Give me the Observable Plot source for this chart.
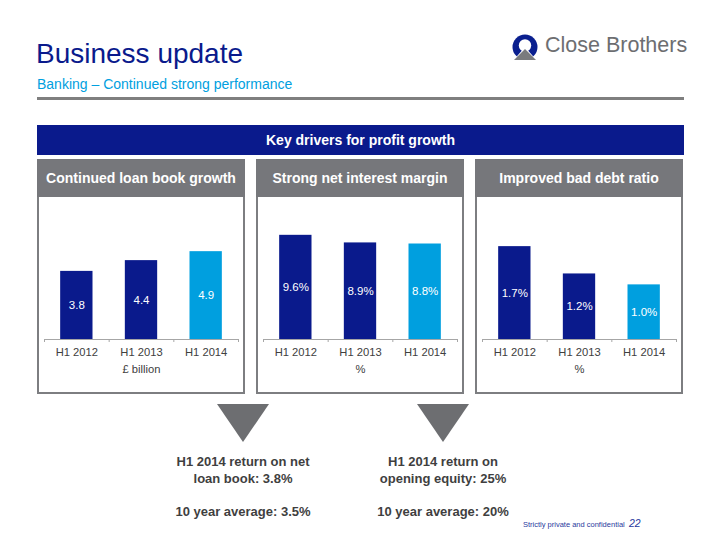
<!DOCTYPE html>
<html><head><meta charset="utf-8">
<script src="https://cdn.jsdelivr.net/npm/d3@7"></script>
<script src="https://cdn.jsdelivr.net/npm/@observablehq/plot@0.6"></script>
<style>
body{margin:0;background:#fff;font-family:"Liberation Sans",Arial,sans-serif;}
#slide{position:relative;width:720px;height:540px;overflow:hidden;background:#fff;}
.abs{position:absolute;}
.panel{position:absolute;top:159px;width:208px;height:235px;box-sizing:border-box;border:2px solid #7d7e81;border-top:none;}
.phead{height:38px;line-height:38px;background:#76777b;color:#fff;font-weight:bold;font-size:14px;text-align:center;margin:0 -2px;}
.panel svg{display:block;}
.bottomtxt{position:absolute;width:220px;text-align:center;font-weight:bold;font-size:13px;line-height:16.5px;color:#3f3f3f;}
</style></head><body>
<div id="slide">
  <div class="abs" style="left:36px;top:40px;font-size:28px;line-height:28px;color:#0a1a8c;">Business update</div>
  <div class="abs" style="left:37px;top:77px;font-size:14px;line-height:14px;color:#00a0e0;">Banking – Continued strong performance</div>
  <div class="abs" style="left:37px;top:97px;width:647px;height:3px;background:#7f7f7f;"></div>
  <svg class="abs" style="left:510px;top:32px;" width="32" height="32" viewBox="0 0 32 32">
    <defs><clipPath id="cc"><circle cx="15" cy="15" r="12.5"/></clipPath></defs>
    <circle cx="15" cy="15" r="12.5" fill="#0a1f8f"/>
    <circle cx="15" cy="13.5" r="6.2" fill="#fff"/>
    <polygon points="15,15 1,31 29,31" fill="#fff" clip-path="url(#cc)"/>
    <polygon points="15,17 4,28 26,28" fill="#7a7b7e"/>
  </svg>
  <div class="abs" style="left:545px;top:35px;font-size:21.5px;line-height:21px;color:#6d6e71;">Close Brothers</div>

  <div class="abs" style="left:37px;top:125px;width:647px;height:30px;line-height:30px;background:#0a1a8c;color:#fff;font-weight:bold;font-size:14px;text-align:center;">Key drivers for profit growth</div>

  <div class="panel" id="p0" style="left:37px;"><div class="phead"></div></div>
  <div class="panel" id="p1" style="left:256px;"><div class="phead"></div></div>
  <div class="panel" id="p2" style="left:475px;"><div class="phead"></div></div>

  <svg class="abs" style="left:0;top:0;pointer-events:none;" width="720" height="540">
    <polygon points="217,404 269,404 243,442" fill="#6d6e71"/>
    <polygon points="417,404 469,404 443,442" fill="#6d6e71"/>
  </svg>

  <div class="bottomtxt" style="left:133px;top:454px;">H1 2014 return on net<br>loan book: 3.8%<br><br>10 year average: 3.5%</div>
  <div class="bottomtxt" style="left:333px;top:454px;">H1 2014 return on<br>opening equity: 25%<br><br>10 year average: 20%</div>

  <div class="abs" style="left:523px;top:521px;font-size:7.5px;line-height:8px;color:#2a3a9e;">Strictly private and confidential</div>
  <div class="abs" style="left:629px;top:518px;font-size:10.5px;line-height:11px;color:#2a3a9e;font-style:italic;">22</div>
</div>
<script>
// ---- data ----
const periods = ["H1 2012", "H1 2013", "H1 2014"];
const panelTitles = ["Continued loan book growth", "Strong net interest margin", "Improved bad debt ratio"];
const loanBook = [3.8, 4.4, 4.9];                 // £ billion
const netInterestMargin = [9.6, 8.9, 8.8];        // %
const badDebtRatio = [1.7, 1.2, 1.0];             // %
const loanBookLabels = ["3.8", "4.4", "4.9"];
const nimLabels = ["9.6%", "8.9%", "8.8%"];
const badDebtLabels = ["1.7%", "1.2%", "1.0%"];
const unitLabels = ["£ billion", "%", "%"];
const periodKind = ["prior", "prior", "current"];

// ---- styling ----
const DARK = "#0a1a8c", LIGHT = "#009fdf", AXIS = "#a6a6a6", TEXT = "#404040";
const FONT = "'Liberation Sans', Arial, sans-serif";

function chart(values, labels, unit, yMax) {
  const data = periods.map((p, i) => ({i, period: p, value: values[i], label: labels[i], kind: periodKind[i]}));
  return Plot.plot({
    width: 204, height: 195,
    marginLeft: 5, marginRight: 5, marginTop: 21, marginBottom: 53,
    style: {fontFamily: FONT, fontSize: "11px", color: TEXT, background: "transparent"},
    x: {domain: [-0.5, periods.length - 0.5], label: null},
    y: {domain: [0, yMax], axis: null, label: null},
    color: {domain: ["prior", "current"], range: [DARK, LIGHT]},
    marks: [
      Plot.rectY(data, {x1: d => d.i - 0.25, x2: d => d.i + 0.25, y: "value", fill: "kind"}),
      Plot.ruleY([0], {stroke: AXIS, strokeWidth: 1}),
      Plot.axisX({ticks: d3.range(-0.5, periods.length), tickFormat: () => "", tickSize: 3, stroke: AXIS, label: null}),
      Plot.axisX({ticks: data.map(d => d.i), tickFormat: i => periods[i], tickSize: 0, tickPadding: 9, fill: TEXT, fontSize: 11.2, label: null}),
      Plot.text(data, {x: "i", y: d => d.value / 2, text: "label", fill: "white", fontSize: 11.5}),
      Plot.text([unit], {text: d => d, frameAnchor: "bottom", dy: 33, fill: TEXT, fontSize: 11.2})
    ]
  });
}

const specs = [
  [loanBook, loanBookLabels, unitLabels[0], 6.75],
  [netInterestMargin, nimLabels, unitLabels[1], 11.15],
  [badDebtRatio, badDebtLabels, unitLabels[2], 2.215]
];
specs.forEach((s, k) => {
  const panel = document.getElementById("p" + k);
  panel.querySelector(".phead").textContent = panelTitles[k];
  panel.appendChild(chart(...s));
});
</script>
</body></html>
